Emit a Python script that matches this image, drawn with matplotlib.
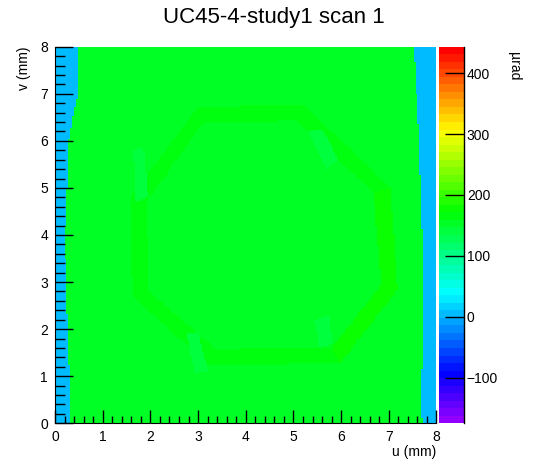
import colorsys
import numpy as np
import matplotlib
matplotlib.use("Agg")
import matplotlib.pyplot as plt
from matplotlib.colors import ListedColormap, BoundaryNorm
from matplotlib.path import Path
from matplotlib.ticker import MultipleLocator

plt.rcParams['font.family'] = ['Liberation Sans', 'DejaVu Sans']

title = "UC45-4-study1 scan 1"
x_label = "u (mm)"
y_label = "v (mm)"
z_label = "µrad"

z_min, z_max = -175.2, 443.7
n_levels = 50
n_bins = 200
bar_ticks = [-100, 0, 100, 200, 300, 400]

# empty bins outside the scanned area
background = 0.0

# scanned area outline: left edge top->bottom, right edge bottom->top
area_u = [0.48, 0.48, 0.38, 0.29, 0.27, 0.21, 0.22, 0.27, 0.31, 0.31,
          7.72, 7.67, 7.70, 7.73, 7.70, 7.63, 7.52]
area_v = [8.0, 7.0, 6.5, 6.0, 5.2, 4.0, 3.5, 2.0, 1.0, 0.0,
          0.0, 0.33, 1.17, 3.5, 4.1, 6.2, 8.0]
area_value = 155.0

# quieter central part of the scan
inner_u = [1.6, 1.9, 6.7, 7.0, 7.0, 6.7, 1.9, 1.6]
inner_v = [1.3, 1.0, 1.0, 1.3, 6.3, 6.65, 6.65, 6.3]
inner_value = 153.0

# octagonal ring, one value per side (top, upper-right, right, ...)
ring_out_u = [3.00, 5.22, 7.02, 7.19, 5.98, 3.22, 1.63, 1.58]
ring_out_v = [6.72, 6.77, 5.00, 2.85, 1.28, 1.23, 2.70, 4.80]
ring_in_u = [3.10, 5.08, 6.68, 6.85, 5.82, 3.38, 1.97, 1.92]
ring_in_v = [6.38, 6.43, 4.90, 2.95, 1.62, 1.57, 2.80, 4.70]
ring_values = [162, 165, 176, 176, 165, 162, 165, 165]

# faint bluish streaks near the ring
streak_u = [[5.30, 5.60, 5.95, 5.70],
            [2.75, 3.00, 3.20, 2.95],
            [5.45, 5.75, 5.80, 5.55],
            [1.65, 1.85, 1.95, 1.70]]
streak_v = [[6.20, 6.25, 5.60, 5.40],
            [1.90, 1.95, 1.10, 1.05],
            [2.20, 2.30, 1.70, 1.60],
            [5.80, 5.85, 4.80, 4.70]]
streak_values = [140, 142, 142, 144]

# ROOT "pretty" palette: HLS hue scan violet -> red, last colour red
colors = []
for i in range(n_levels - 1):
    hue = 280 - (i + 1) * (280 / n_levels)
    colors.append(colorsys.hls_to_rgb(hue / 360, 0.5, 1.0))
colors.append((1.0, 0.0, 0.0))
cmap = ListedColormap(colors)
norm = BoundaryNorm(np.linspace(z_min, z_max, n_levels + 1), n_levels)

edges = np.linspace(0, 8, n_bins + 1)
centers = (edges[:-1] + edges[1:]) / 2
uu, vv = np.meshgrid(centers, centers)
pts = np.column_stack([uu.ravel(), vv.ravel()])
z = np.full(uu.shape, background)


def fill(pu, pv, value):
    mask = Path(np.column_stack([pu, pv])).contains_points(pts).reshape(uu.shape)
    z[mask] = value


fill(area_u, area_v, area_value)
fill(inner_u, inner_v, inner_value)
for k in range(len(ring_values)):
    j = (k + 1) % len(ring_values)
    fill([ring_out_u[k], ring_out_u[j], ring_in_u[j], ring_in_u[k]],
         [ring_out_v[k], ring_out_v[j], ring_in_v[j], ring_in_v[k]],
         ring_values[k])
for su, sv, val in zip(streak_u, streak_v, streak_values):
    fill(su, sv, val)

W, H = 546, 472
fig = plt.figure(figsize=(W / 100, H / 100), dpi=100)
left, right, top, bottom = 55, 436.5, 46.7, 423.3
ax = fig.add_axes([left / W, 1 - bottom / H, (right - left) / W, (bottom - top) / H])
cax = fig.add_axes([439 / W, 1 - bottom / H, 25 / W, (bottom - top) / H])

mesh = ax.pcolormesh(edges, edges, z, cmap=cmap, norm=norm, shading='flat')
ax.set_xlim(0, 8)
ax.set_ylim(0, 8)
for s in ['top', 'right']:
    ax.spines[s].set_visible(False)
ax.xaxis.set_major_locator(MultipleLocator(1))
ax.xaxis.set_minor_locator(MultipleLocator(0.2))
ax.yaxis.set_major_locator(MultipleLocator(1))
ax.yaxis.set_minor_locator(MultipleLocator(0.2))
ax.tick_params(axis='x', which='major', direction='in', length=9.5, width=1, labelsize=10, pad=5)
ax.tick_params(axis='x', which='minor', direction='in', length=5, width=1)
ax.tick_params(axis='y', which='major', direction='in', length=13, width=1, labelsize=10, pad=5)
ax.tick_params(axis='y', which='minor', direction='in', length=7, width=1)

ax.set_xlabel(x_label, fontsize=10, loc='right')
ax.xaxis.set_label_coords(1.0, -0.058)
ax.set_ylabel(y_label, fontsize=10, loc='top')
ax.yaxis.set_label_coords(-0.062, 1.0)

cbar = fig.colorbar(mesh, cax=cax, ticks=bar_ticks)
cbar.outline.set_visible(False)
cax.plot([1, 1], [0, 1], transform=cax.transAxes, color='black', lw=1, clip_on=False)
cax.tick_params(direction='in', length=14, width=1, labelsize=10, pad=2)
cax.minorticks_off()

fig.text(273.5 / W, 1 - 17 / H, title, ha='center', va='center', fontsize=16)
fig.text(514 / W, 1 - 52 / H, z_label, ha='center', va='top', rotation=270, fontsize=10)

fig.savefig("out.png", dpi=100)
